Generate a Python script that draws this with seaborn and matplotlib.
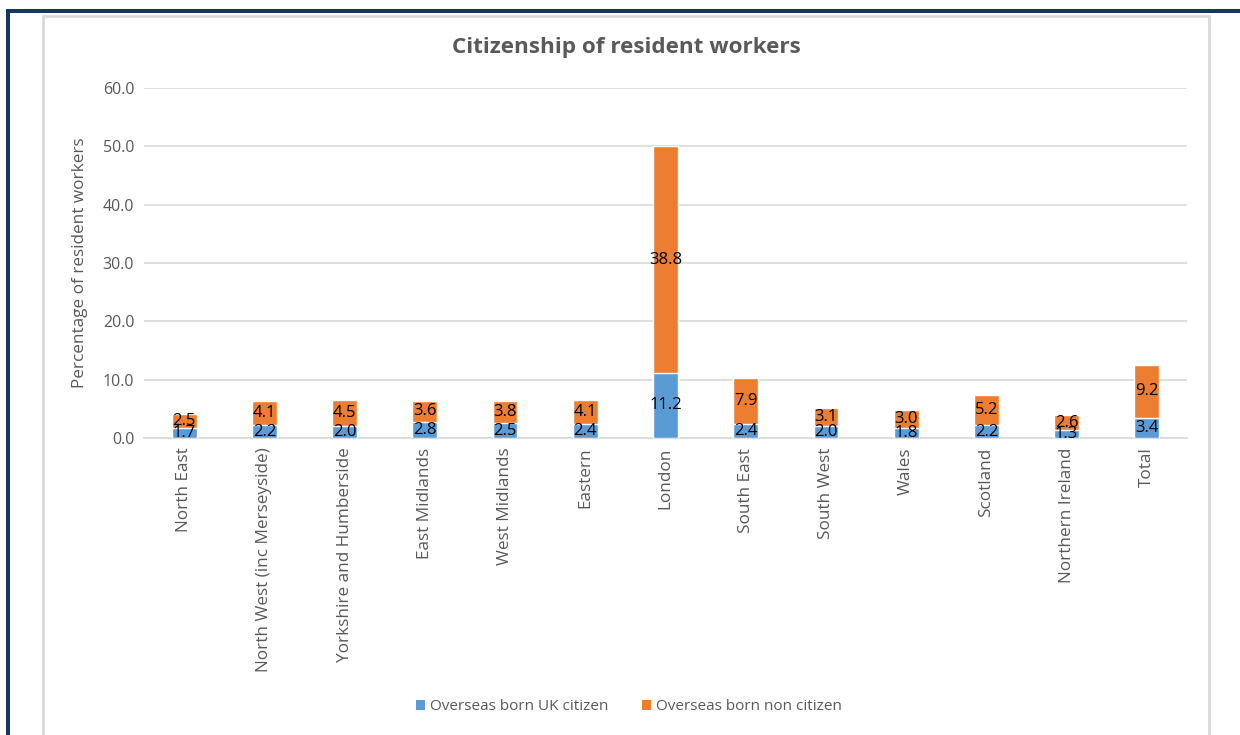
import matplotlib
matplotlib.use("Agg")
import matplotlib.pyplot as plt
from matplotlib.patches import Rectangle, Patch
import seaborn as sns
import pandas as pd

regions = [
    "North East", "North West (inc Merseyside)", "Yorkshire and Humberside",
    "East Midlands", "West Midlands", "Eastern", "London", "South East",
    "South West", "Wales", "Scotland", "Northern Ireland", "Total",
]
uk_citizen = [1.7, 2.2, 2.0, 2.8, 2.5, 2.4, 11.2, 2.4, 2.0, 1.8, 2.2, 1.3, 3.4]
non_citizen = [2.5, 4.1, 4.5, 3.6, 3.8, 4.1, 38.8, 7.9, 3.1, 3.0, 5.2, 2.6, 9.2]
series_names = ["Overseas born UK citizen", "Overseas born non citizen"]
y_ticks = [0, 10, 20, 30, 40, 50, 60]

BLUE = "#5B9BD5"
ORANGE = "#ED7D31"
GREY_TEXT = "#595959"
GRID = "#D9D9D9"

sns.set_theme(style="white")
plt.rcParams["font.family"] = ["Open Sans", "DejaVu Sans"]

df = pd.DataFrame({"region": regions, "uk": uk_citizen, "non": non_citizen})
df["stack_top"] = df["uk"] + df["non"]

W, H = 1240, 735
fig = plt.figure(figsize=(W / 100, H / 100), dpi=100)
fig.patch.set_facecolor("white")

# chart frame and outer dark border
fig.patches.append(Rectangle((43 / W, -0.01), (1209 - 43) / W, (H - 16) / H + 0.01,
                             transform=fig.transFigure, fill=False,
                             edgecolor=GRID, linewidth=2))
fig.patches.append(Rectangle((6 / W, (H - 13) / H), 1 - 6 / W, 4 / H,
                             transform=fig.transFigure, facecolor="#17375E",
                             edgecolor="none"))
fig.patches.append(Rectangle((6 / W, 0), 4 / W, (H - 9) / H,
                             transform=fig.transFigure, facecolor="#17375E",
                             edgecolor="none"))

ax = fig.add_axes([144 / W, (H - 438) / H, (1187 - 144) / W, (438 - 88) / H])

sns.barplot(data=df, x="region", y="stack_top", color=ORANGE, width=0.31,
            saturation=1, ax=ax, zorder=2)
sns.barplot(data=df, x="region", y="uk", color=BLUE, width=0.31,
            saturation=1, ax=ax, zorder=3)

# labels: orange segment shows its own value, centred in the segment
orange_bars = ax.containers[0]
blue_bars = ax.containers[1]
ax.bar_label(blue_bars, labels=[f"{v:.1f}" for v in uk_citizen],
             label_type="center", fontsize=12, color="black", zorder=5)
for bar, base, val in zip(orange_bars, uk_citizen, non_citizen):
    ax.text(bar.get_x() + bar.get_width() / 2, base + val / 2, f"{val:.1f}",
            ha="center", va="center", fontsize=12, color="black", zorder=5)

ax.set_ylim(0, 60)
ax.set_yticks(y_ticks)
ax.set_yticklabels([f"{t:.1f}" for t in y_ticks], color=GREY_TEXT, fontsize=11.5)
ax.set_xlim(-0.5, len(regions) - 0.5)
ax.set_xticks(range(len(regions)))
ax.set_xticklabels(regions, rotation=90, color=GREY_TEXT, fontsize=12.3)
ax.tick_params(axis="both", length=0, pad=7)
ax.set_xlabel("")
ax.set_ylabel("Percentage of resident workers", color=GREY_TEXT, fontsize=12.3)
ax.yaxis.set_label_coords(-0.054, 0.5)
ax.yaxis.grid(True, color=GRID, linewidth=1.2, zorder=0)
ax.set_axisbelow(True)
for side in ["top", "right", "left"]:
    ax.spines[side].set_visible(False)
ax.spines["bottom"].set_color(GRID)
ax.spines["bottom"].set_linewidth(1.2)

fig.text(626 / W, (H - 47) / H, "Citizenship of resident workers",
         ha="center", va="center", fontsize=16.2, fontweight="bold", color=GREY_TEXT)

handles = [Patch(facecolor=BLUE, edgecolor="none"),
           Patch(facecolor=ORANGE, edgecolor="none")]
fig.legend(handles, series_names, loc="center", bbox_to_anchor=(629 / W, (H - 707) / H),
           ncol=2, frameon=False, fontsize=11, handlelength=0.6, handleheight=0.6,
           handletextpad=0.3, columnspacing=2.2, labelcolor=GREY_TEXT)

fig.savefig("out.png", dpi=100, facecolor="white")
